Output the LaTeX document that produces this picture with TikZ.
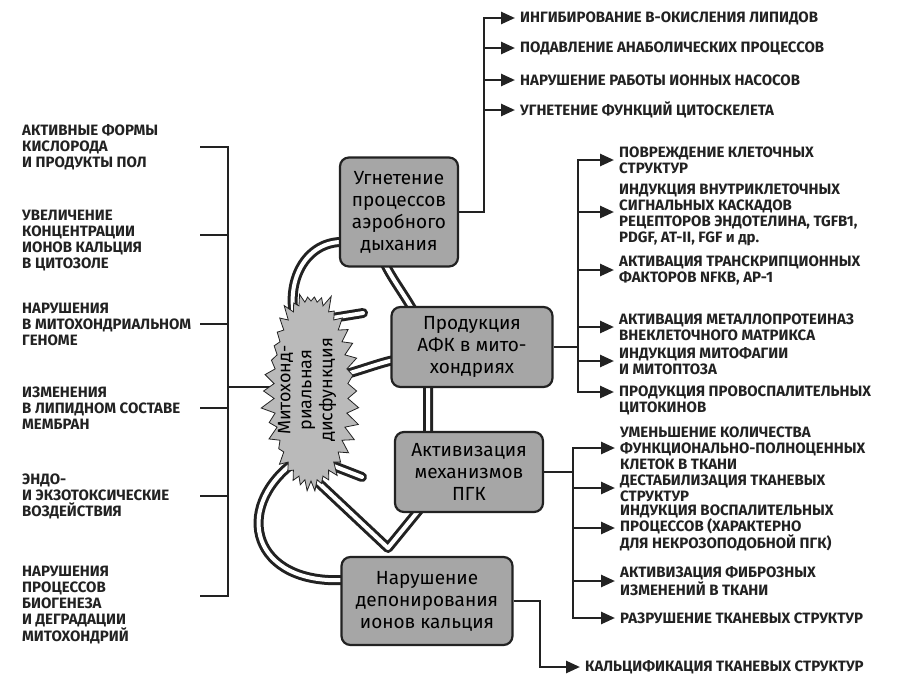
\documentclass[tikz,border=0pt]{standalone}
\usepackage{fontspec}
\setmainfont{Fira Sans}
\usetikzlibrary{
  shapes.symbols,
  arrows.meta,
  positioning,
  backgrounds
}
\definecolor{InkDark}{HTML}{222222}
\definecolor{BoxGray}{HTML}{A6A6A6}
\definecolor{BurstGray}{HTML}{BABABA}
\tikzset{
  % Process box
  proc/.style={
    rectangle, rounded corners=9pt,
    draw=InkDark, fill=BoxGray, line width=2.2pt,
    align=center, inner sep=3pt,
    font=\fontsize{19}{22}\selectfont
  },
  % Central starburst (no text)
  burst/.style={
    starburst, starburst points=38, starburst point height=14pt,
    random starburst=11,
    draw=InkDark, fill=BurstGray, line width=0.8pt,
    inner sep=0pt
  },
  % Cause / effect label
  lbl/.style={
    anchor=west, align=left, inner sep=0pt,
    text=InkDark, font=\bfseries\fontsize{15}{16}\selectfont
  },
  % Plain wire
  wire/.style={line width=2.6pt, draw=InkDark},
  % Arrow
  arr/.style={wire, -{Triangle[length=14pt,width=12pt]}},
  % Hollow double tube
  tube/.style={
    line width=3pt, draw=InkDark, double=white,
    double distance=4pt, line cap=round, line join=round
  }
}

\begin{document}
\begin{tikzpicture}[x=1pt, y=-1pt]
  \path[use as bounding box] (0,0) rectangle (898,678);

  % causes
  \node[lbl] (c1) at (22,147) {АКТИВНЫЕ ФОРМЫ\\КИСЛОРОДА\\И ПРОДУКТЫ ПОЛ};
  \node[lbl] (c2) at (22,241) {УВЕЛИЧЕНИЕ\\КОНЦЕНТРАЦИИ\\ИОНОВ КАЛЬЦИЯ\\В ЦИТОЗОЛЕ};
  \node[lbl] (c3) at (22,324) {НАРУШЕНИЯ\\В МИТОХОНДРИАЛЬНОМ\\ГЕНОМЕ};
  \node[lbl] (c4) at (22,408) {ИЗМЕНЕНИЯ\\В ЛИПИДНОМ СОСТАВЕ\\МЕМБРАН};
  \node[lbl] (c5) at (22,496) {ЭНДО-\\И ЭКЗОТОКСИЧЕСКИЕ\\ВОЗДЕЙСТВИЯ};
  \node[lbl] (c6) at (22,605) {НАРУШЕНИЯ\\ПРОЦЕССОВ\\БИОГЕНЕЗА\\И ДЕГРАДАЦИИ\\МИТОХОНДРИЙ};
  \coordinate (tick) at (200,0);
  \coordinate (bar)  at (228,0);

  % centre and the four processes
  \node[burst, rotate=90, minimum width=208pt, minimum height=102pt] (burst) at (311,391) {};
  \node[rotate=90, align=center, inner sep=0pt, font=\fontsize{18}{21}\selectfont]
    (burstlbl) at (307,390) {Митохонд-\\риальная\\дисфункция};
  \node[proc, minimum width=118pt, minimum height=109pt] (aer) at (399,212) {Угнетение\\процессов\\аэробного\\дыхания};
  \node[proc, minimum width=161pt, minimum height=80pt]  (afk) at (472,347) {Продукция\\АФК в мито-\\хондриях};
  \node[proc, minimum width=148pt, minimum height=80pt]  (pgk) at (469,472) {Активизация\\механизмов\\ПГК};
  \node[proc, minimum width=171pt, minimum height=88pt]  (dep) at (427,601) {Нарушение\\депонирования\\ионов кальция};

  % effects: aerobic respiration
  \node[lbl] (a1) at (520,18)  {ИНГИБИРОВАНИЕ В-ОКИСЛЕНИЯ ЛИПИДОВ};
  \node[lbl] (a2) at (520,48)  {ПОДАВЛЕНИЕ АНАБОЛИЧЕСКИХ ПРОЦЕССОВ};
  \node[lbl] (a3) at (520,80)  {НАРУШЕНИЕ РАБОТЫ ИОННЫХ НАСОСОВ};
  \node[lbl] (a4) at (520,110) {УГНЕТЕНИЕ ФУНКЦИЙ ЦИТОСКЕЛЕТА};
  \coordinate (b1) at (484,0);

  % effects: ROS
  \node[lbl] (f1) at (619,160) {ПОВРЕЖДЕНИЕ КЛЕТОЧНЫХ\\СТРУКТУР};
  \node[lbl] (f2) at (619,215) {ИНДУКЦИЯ ВНУТРИКЛЕТОЧНЫХ\\СИГНАЛЬНЫХ КАСКАДОВ\\РЕЦЕПТОРОВ ЭНДОТЕЛИНА, TGFB1,\\PDGF, AT-II, FGF и др.};
  \node[lbl] (f3) at (619,270) {АКТИВАЦИЯ ТРАНСКРИПЦИОННЫХ\\ФАКТОРОВ NFKB, AP-1};
  \node[lbl] (f4) at (619,327) {АКТИВАЦИЯ МЕТАЛЛОПРОТЕИНАЗ\\ВНЕКЛЕТОЧНОГО МАТРИКСА};
  \node[lbl] (f5) at (619,361) {ИНДУКЦИЯ МИТОФАГИИ\\И МИТОПТОЗА};
  \node[lbl] (f6) at (619,400) {ПРОДУКЦИЯ ПРОВОСПАЛИТЕЛЬНЫХ\\ЦИТОКИНОВ};
  \coordinate (b2) at (578,0);

  % effects: PGK
  \node[lbl] (g1) at (620,448) {УМЕНЬШЕНИЕ КОЛИЧЕСТВА\\ФУНКЦИОНАЛЬНО-ПОЛНОЦЕННЫХ\\КЛЕТОК В ТКАНИ};
  \node[lbl] (g2) at (620,488) {ДЕСТАБИЛИЗАЦИЯ ТКАНЕВЫХ\\СТРУКТУР};
  \node[lbl] (g3) at (620,528) {ИНДУКЦИЯ ВОСПАЛИТЕЛЬНЫХ\\ПРОЦЕССОВ (ХАРАКТЕРНО\\ДЛЯ НЕКРОЗОПОДОБНОЙ ПГК)};
  \node[lbl] (g4) at (620,581) {АКТИВИЗАЦИЯ ФИБРОЗНЫХ\\ИЗМЕНЕНИЙ В ТКАНИ};
  \node[lbl] (g5) at (620,618) {РАЗРУШЕНИЕ ТКАНЕВЫХ СТРУКТУР};
  \coordinate (b3) at (573,0);

  % effect: calcium
  \node[lbl] (h1) at (585,667) {КАЛЬЦИФИКАЦИЯ ТКАНЕВЫХ СТРУКТУР};
  \coordinate (b4) at (540,0);

  % left bracket
  \draw[wire] (c1.west -| tick) -- (c1.west -| bar) -- ([yshift=9pt]c6.west -| bar) -- ([yshift=9pt]c6.west -| tick);
  \draw[wire] ([yshift=6pt]c2.west -| tick) -- ([yshift=6pt]c2.west -| bar);
  \foreach \n in {c3,c4,c5}
    \draw[wire] (\n.west -| tick) -- (\n.west -| bar);

  % right branches
  \draw[arr] (aer.east) -| (a1.west -| b1) -- ([xshift=-5pt]a1.west);
  \foreach \n in {a2,a3,a4}
    \draw[arr] (\n.west -| b1) -- ([xshift=-5pt]\n.west);

  \draw[wire] (afk.east) -- (afk.east -| b2);
  \draw[arr] ([yshift=8pt]f6.west -| b2) -- (f1.west -| b2) -- ([xshift=-5pt]f1.west);
  \draw[arr] (f1.west -| b2) |- ([xshift=-5pt,yshift=8pt]f6.west);
  \draw[arr] ([yshift=3pt]f2.west -| b2) -- ([xshift=-5pt,yshift=3pt]f2.west);
  \foreach \n in {f3,f4,f5}
    \draw[arr] (\n.west -| b2) -- ([xshift=-5pt]\n.west);

  \draw[wire] (pgk.east) -- (pgk.east -| b3);
  \draw[arr] (g5.west -| b3) -- (g1.west -| b3) -- ([xshift=-5pt]g1.west);
  \draw[arr] (g1.west -| b3) |- ([xshift=-5pt]g5.west);
  \foreach \n in {g2,g3,g4}
    \draw[arr] (\n.west -| b3) -- ([xshift=-5pt]\n.west);

  \draw[arr] (dep.east) -| (h1.west -| b4) -- ([xshift=-5pt]h1.west);

  % tubes behind the nodes
  \begin{scope}[on background layer]
    \fill[white] (0,0) rectangle (898,678);
    \draw[wire] ([yshift=4pt]burst.center -| bar) -- ([yshift=4pt]burst.center);
    \draw[tube] ([shift={(-15,-68)}]burst.center) .. controls +(-12,-40) and +(-40,-2) .. ([shift={(-54,30)}]aer.center);
    \draw[tube] ([shift={(-15,50)}]aer.center) .. controls +(14,30) and +(0,-40) .. ([shift={(-44,13)}]afk.center) -- ([shift={(-41,-36)}]pgk.center);
    \draw[tube] ([shift={(15,-72)}]burst.center) -- ([shift={(52,-78)}]burst.center);
    \draw[tube] ([shift={(28,-15)}]burst.center) .. controls +(20,-5) and +(-15,3) .. ([shift={(-78,13)}]afk.center);
    \draw[tube] ([shift={(-5,80)}]burst.center) -- ([shift={(-39,-53)}]dep.center) -- ([shift={(-50,38)}]pgk.center);
    \draw[tube] ([shift={(15,72)}]burst.center) -- ([shift={(51,86)}]burst.center);
    \draw[tube] ([shift={(-18,72)}]burst.center) .. controls +(-60,46) and +(-93,5) .. ([shift={(-82,-21)}]dep.center);
  \end{scope}
\end{tikzpicture}
\end{document}
